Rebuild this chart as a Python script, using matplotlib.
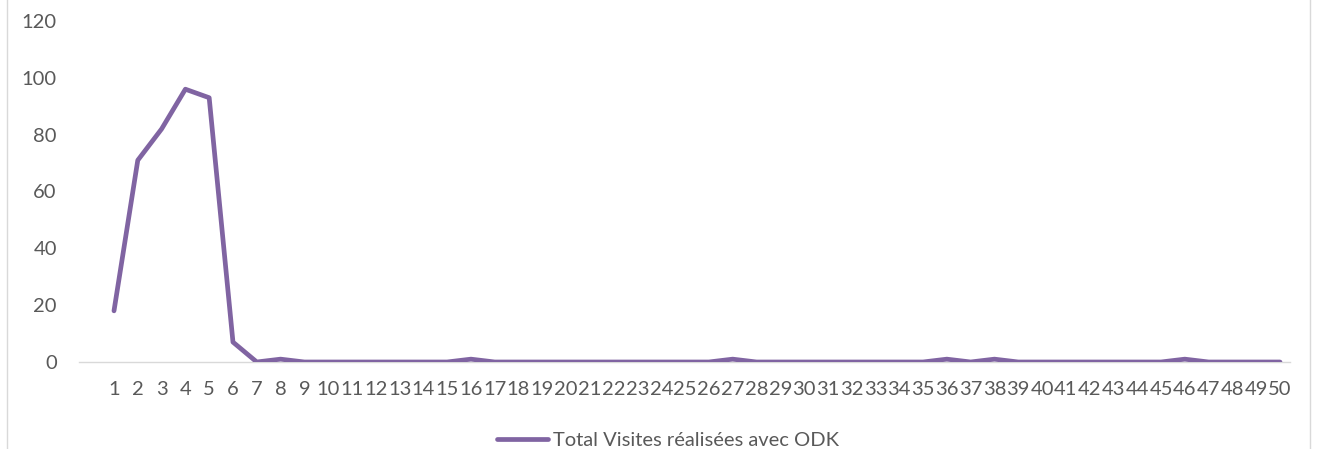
import matplotlib
matplotlib.use('Agg')
from matplotlib import pyplot as plt
from matplotlib.lines import Line2D

days = list(range(1, 51))
visites = [18, 71, 82, 96, 93, 7, 0, 1, 0, 0,
           0, 0, 0, 0, 0, 1, 0, 0, 0, 0,
           0, 0, 0, 0, 0, 0, 1, 0, 0, 0,
           0, 0, 0, 0, 0, 1, 0, 1, 0, 0,
           0, 0, 0, 0, 0, 1, 0, 0, 0, 0]
series_label = 'Total Visites réalisées avec ODK'

plt.rcParams['font.family'] = ['Lato', 'DejaVu Sans']
text_color = '#595959'
purple = '#8064A2'

W, H = 1319, 449
fig = plt.figure(figsize=(W / 100, H / 100), dpi=100)
ax = fig.add_axes([79 / W, 1 - 362 / H, (1290 - 79) / W, (362 - 21) / H])

ax.plot(days, visites, color=purple, linewidth=3.4, solid_joinstyle='round',
        solid_capstyle='round', zorder=3)

ax.set_ylim(0, 120)
ax.set_xlim(1 - 35 / 23.8, 50 + 10 / 23.8)
ax.set_yticks(range(0, 121, 20))
ax.set_xticks(days)
ax.set_xticklabels([str(d) for d in days])

for side in ['top', 'right', 'left']:
    ax.spines[side].set_visible(False)
ax.spines['bottom'].set_color('#D9D9D9')
ax.spines['bottom'].set_linewidth(1)
ax.tick_params(axis='both', length=0, labelsize=14.5, colors=text_color)
ax.tick_params(axis='x', pad=14)
ax.tick_params(axis='y', pad=16)

# chart area border
fig.add_artist(Line2D([7 / W, 7 / W], [0, 1], color='#D9D9D9', linewidth=1))
fig.add_artist(Line2D([1310 / W, 1310 / W], [0, 1], color='#D9D9D9', linewidth=1))

handle = Line2D([], [], color=purple, linewidth=3.4, solid_capstyle='round')
fig.legend([handle], [series_label], loc='center', bbox_to_anchor=(668 / W, 1 - 440 / H),
           frameon=False, fontsize=14.5, labelcolor=text_color, handlelength=2.5,
           handletextpad=0.25)

plt.savefig('out.png', dpi=100)
